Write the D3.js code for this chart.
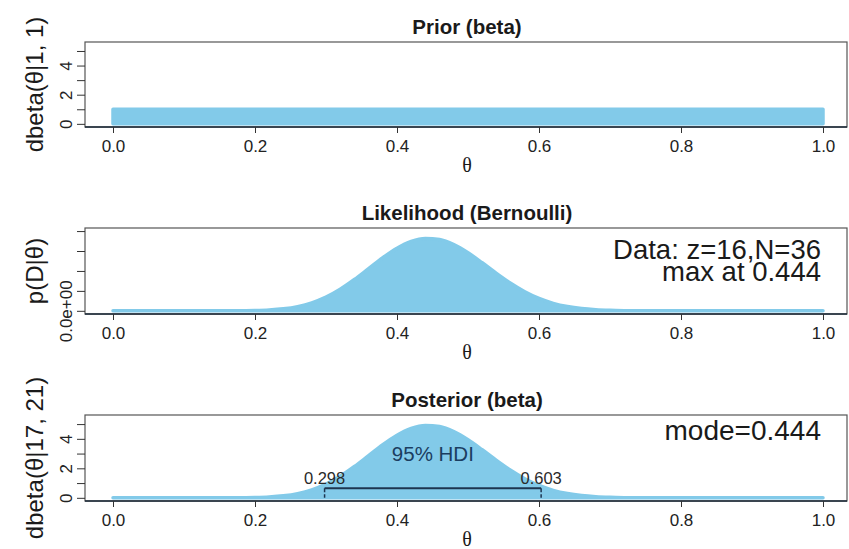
<!DOCTYPE html>
<html>
<head>
<meta charset="utf-8">
<script src="https://cdn.jsdelivr.net/npm/d3@7"></script>
<style>
  html, body { margin: 0; padding: 0; background: #fff; }
  svg { display: block; }
</style>
</head>
<body>
<div id="chart"></div>
<script>
// Grid of theta values at which the densities are drawn
const theta = [
  0.00, 0.02, 0.04, 0.06, 0.08, 0.10, 0.12, 0.14, 0.16, 0.18,
  0.20, 0.22, 0.24, 0.26, 0.28, 0.30, 0.32, 0.34, 0.36, 0.38,
  0.40, 0.42, 0.44, 0.46, 0.48, 0.50, 0.52, 0.54, 0.56, 0.58,
  0.60, 0.62, 0.64, 0.66, 0.68, 0.70, 0.72, 0.74, 0.76, 0.78,
  0.80, 0.82, 0.84, 0.86, 0.88, 0.90, 0.92, 0.94, 0.96, 0.98, 1.00
];

// Prior: dbeta(theta | 1, 1)
const prior = [
  1, 1, 1, 1, 1, 1, 1, 1, 1, 1,
  1, 1, 1, 1, 1, 1, 1, 1, 1, 1,
  1, 1, 1, 1, 1, 1, 1, 1, 1, 1,
  1, 1, 1, 1, 1, 1, 1, 1, 1, 1,
  1, 1, 1, 1, 1, 1, 1, 1, 1, 1, 1
];

// Likelihood p(D | theta) for z = 16, N = 36
const likelihood = [
  0, 0, 0, 0, 0, 1e-17, 1.4e-16, 1.07e-15, 5.6e-15, 2.3e-14,
  7.6e-14, 2.09e-13, 5.01e-13, 1.057e-12, 2.001e-12, 3.435e-12, 5.402e-12, 7.844e-12, 1.0578e-11, 1.3315e-11,
  1.5702e-11, 1.7401e-11, 1.8154e-11, 1.7865e-11, 1.6593e-11, 1.4552e-11, 1.2048e-11, 9.406e-12, 6.919e-12, 4.785e-12,
  3.102e-12, 1.879e-12, 1.059e-12, 5.52e-13, 2.65e-13, 1.16e-13, 4.6e-14, 1.6e-14, 5e-15, 1e-15,
  3e-16, 0, 0, 0, 0, 0, 0, 0, 0, 0, 0
];

// Posterior: dbeta(theta | 17, 21)
const posterior = [
  0, 0, 0, 0, 0, 0.000003, 0.00004, 0.00029, 0.0015, 0.0062,
  0.0204, 0.0566, 0.1355, 0.2859, 0.541, 0.9288, 1.4608, 2.1211, 2.8605, 3.6006,
  4.246, 4.7055, 4.909, 4.831, 4.487, 3.935, 3.258, 2.5436, 1.8709, 1.2938,
  0.8388, 0.5081, 0.2864, 0.1494, 0.0716, 0.0313, 0.0124, 0.0044, 0.0014, 0.0004,
  0.0001, 0, 0, 0, 0, 0, 0, 0, 0, 0, 0
];

// Axis ticks and labels
const xTicks = [0, 0.2, 0.4, 0.6, 0.8, 1.0];
const xTickLabels = ["0.0", "0.2", "0.4", "0.6", "0.8", "1.0"];
const densityTicks = [0, 1, 2, 3, 4, 5];
const densityTickLabels = ["0", "", "2", "", "4", ""];
const likelihoodTicks = [0, 0.5e-11, 1.0e-11, 1.5e-11, 2.0e-11];
const likelihoodTickLabels = ["0.0e+00", "", "", "", ""];

// Panel titles, y labels and annotations
const panelTitles = ["Prior (beta)", "Likelihood (Bernoulli)", "Posterior (beta)"];
const yLabels = ["dbeta(\u03B8|1, 1)", "p(D|\u03B8)", "dbeta(\u03B8|17, 21)"];
const dataNote = ["Data: z=16,N=36", "max at 0.444"];
const modeNote = "mode=0.444";

// 95% HDI of the posterior
const hdiLimits = [0.298, 0.603];
const hdiLabels = ["0.298", "0.603"];
const hdiHeight = 0.65;
const hdiText = "95% HDI";

const W = 849, H = 549;
const sans = "'Liberation Sans', Arial, Helvetica, sans-serif";
const serif = "'Liberation Serif', 'Times New Roman', serif";
const fillColor = "#82cae9";
const ink = "#1a1a1a";

const svg = d3.select("#chart").append("svg")
  .attr("width", W).attr("height", H)
  .attr("viewBox", `0 0 ${W} ${H}`);

svg.append("rect").attr("width", W).attr("height", H).attr("fill", "#fff");

const frameLeft = 85, frameRight = 847;
const x = d3.scaleLinear().domain([0, 1]).range([113, 823]);

// Density panels share the same vertical limits
const densityMax = 1.1 * d3.max(posterior.concat(prior));
const likeMax = 1.1 * d3.max(likelihood);
const pad = v => [-0.04 * v, 1.04 * v];

const panels = [
  { top: 42, bottom: 127, values: prior, ylim: pad(densityMax), ticks: densityTicks, tickLabels: densityTickLabels },
  { top: 228, bottom: 314, values: likelihood, ylim: pad(likeMax), ticks: likelihoodTicks, tickLabels: likelihoodTickLabels },
  { top: 415, bottom: 501, values: posterior, ylim: pad(densityMax), ticks: densityTicks, tickLabels: densityTickLabels }
];

panels.forEach((p, i) => {
  const y = d3.scaleLinear().domain(p.ylim).range([p.bottom, p.top]);
  p.y = y;
  const g = svg.append("g");

  // filled density
  const pts = theta.map((t, k) => [t, p.values[k]]);
  const area = d3.area()
    .x(d => x(d[0]))
    .y0(y(0))
    .y1(d => y(d[1]))
    .curve(d3.curveMonotoneX);
  g.append("path")
    .attr("d", area(pts))
    .attr("fill", fillColor)
    .attr("stroke", fillColor)
    .attr("stroke-width", 3.5)
    .attr("stroke-linejoin", "round");

  // frame
  g.append("rect")
    .attr("x", frameLeft).attr("y", p.top)
    .attr("width", frameRight - frameLeft).attr("height", p.bottom - p.top)
    .attr("fill", "none").attr("stroke", "#555").attr("stroke-width", 1.2);
  g.append("line")
    .attr("x1", frameLeft).attr("x2", frameRight)
    .attr("y1", p.bottom).attr("y2", p.bottom)
    .attr("stroke", "#1b2a38").attr("stroke-width", 1.4);

  // x axis
  const xAxis = d3.axisBottom(x)
    .tickValues(xTicks)
    .tickFormat((d, k) => xTickLabels[k])
    .tickSize(6).tickPadding(7);
  const gx = g.append("g").attr("transform", `translate(0,${p.bottom})`).call(xAxis);
  gx.select(".domain").remove();
  gx.selectAll(".tick line").attr("stroke", "#333");
  gx.selectAll(".tick text")
    .attr("font-family", sans).attr("font-size", 17).attr("fill", "#222");

  // y axis
  const yAxis = d3.axisLeft(y)
    .tickValues(p.ticks)
    .tickFormat((d, k) => p.tickLabels[k])
    .tickSize(8);
  const gy = g.append("g").attr("transform", `translate(${frameLeft},0)`).call(yAxis);
  gy.select(".domain").remove();
  gy.selectAll(".tick line").attr("stroke", "#333");
  gy.selectAll(".tick text")
    .attr("x", null).attr("dy", null)
    .attr("text-anchor", "middle")
    .attr("transform", "translate(-13,0) rotate(-90)")
    .attr("font-family", sans).attr("font-size", 17).attr("fill", "#222");

  // titles and axis labels
  g.append("text")
    .attr("x", 467).attr("y", p.top - 8)
    .attr("text-anchor", "middle")
    .attr("font-family", sans).attr("font-weight", "bold").attr("font-size", 20.5)
    .attr("fill", ink)
    .text(panelTitles[i]);

  g.append("text")
    .attr("x", 467).attr("y", p.bottom + 45)
    .attr("text-anchor", "middle")
    .attr("font-family", serif).attr("font-size", 20)
    .attr("fill", ink)
    .text("\u03B8");

  g.append("text")
    .attr("transform", `translate(43,${(p.top + p.bottom) / 2}) rotate(-90)`)
    .attr("text-anchor", "middle")
    .attr("font-family", sans).attr("font-size", 24)
    .attr("fill", ink)
    .text(yLabels[i]);
});

// Likelihood annotation
svg.append("text")
  .attr("x", 821).attr("y", 259)
  .attr("text-anchor", "end")
  .attr("font-family", sans).attr("font-size", 27.5).attr("fill", ink)
  .text(dataNote[0]);
svg.append("text")
  .attr("x", 821).attr("y", 281)
  .attr("text-anchor", "end")
  .attr("font-family", sans).attr("font-size", 27.5).attr("fill", ink)
  .text(dataNote[1]);

// Posterior annotations
const p3 = panels[2];
svg.append("text")
  .attr("x", 821).attr("y", 440)
  .attr("text-anchor", "end")
  .attr("font-family", sans).attr("font-size", 28).attr("fill", ink)
  .text(modeNote);

const hdiY = p3.y(hdiHeight);
const hdiColor = "#1d3550";
hdiLimits.forEach(v => {
  svg.append("line")
    .attr("x1", x(v)).attr("x2", x(v))
    .attr("y1", hdiY).attr("y2", p3.y(0))
    .attr("stroke", hdiColor).attr("stroke-width", 1.5)
    .attr("stroke-dasharray", "4,2");
});
svg.append("line")
  .attr("x1", x(hdiLimits[0])).attr("x2", x(hdiLimits[1]))
  .attr("y1", hdiY).attr("y2", hdiY)
  .attr("stroke", hdiColor).attr("stroke-width", 1.8);

svg.append("text")
  .attr("x", x(d3.mean(hdiLimits))).attr("y", hdiY - 27)
  .attr("text-anchor", "middle")
  .attr("font-family", sans).attr("font-size", 20.5).attr("fill", "#1b3d60")
  .text(hdiText);

hdiLimits.forEach((v, k) => {
  svg.append("text")
    .attr("x", x(v)).attr("y", hdiY - 4)
    .attr("text-anchor", "middle")
    .attr("font-family", sans).attr("font-size", 16.5).attr("fill", "#2a2a2a")
    .text(hdiLabels[k]);
});
</script>
</body>
</html>
